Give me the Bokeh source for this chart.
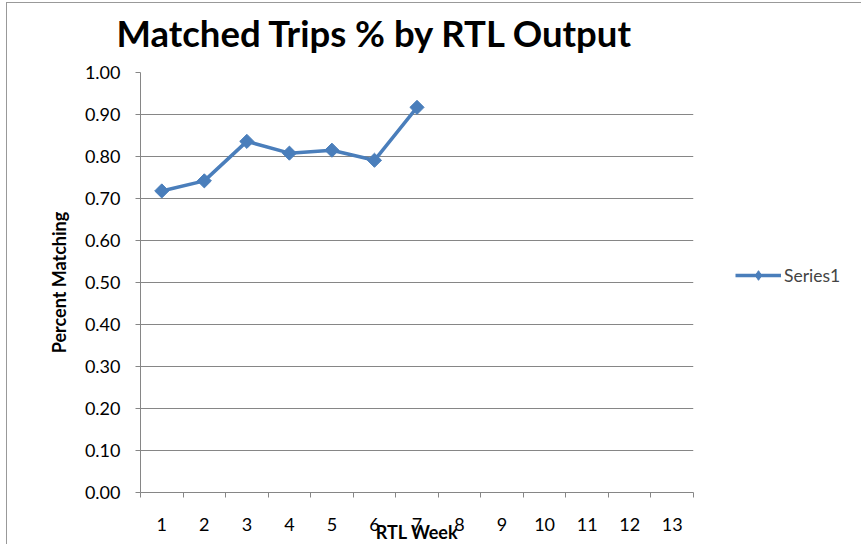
from math import pi
from bokeh.plotting import figure
from bokeh.models import Range1d, FixedTicker, Legend, LegendItem
from bokeh.embed import file_html
from bokeh.resources import INLINE

weeks = [1, 2, 3, 4, 5, 6, 7]
pct = [0.718, 0.742, 0.836, 0.808, 0.815, 0.791, 0.917]
x_ticks = list(range(1, 14))
x_bounds = [i + 0.5 for i in range(0, 14)]
y_ticks = [i / 10 for i in range(0, 11)]
title_text = "Matched Trips % by RTL Output"
x_title = "RTL Week"
y_title = "Percent Matching"
series_name = "Series1"

FONT = "Lato"
BLUE = "#4A7EBB"
GRID = "#868686"

TOP = 90      # top border on the canvas (title room)
SHIFT = 18    # canvas is pulled up so the plot area starts 72px from the top

p = figure(frame_width=553, frame_height=420, output_backend="svg",
           toolbar_location=None,
           x_range=Range1d(x_bounds[0], x_bounds[-1]), y_range=Range1d(0, 1),
           min_border_left=140, min_border_right=168, min_border_top=TOP,
           min_border_bottom=52)
p.outline_line_color = None
p.border_fill_color = None
p.styles = {
    "margin-top": f"-{SHIFT}px",
    "box-shadow": (f"inset 6px 0 0 0 white, inset 0 {SHIFT + 2}px 0 0 white, "
                   f"inset 7px 0 0 0 #999, inset 0 {SHIFT + 3}px 0 0 #999"),
}

# title
p.title.text = title_text
p.title.text_font = FONT
p.title.text_font_style = "bold"
p.title.text_font_size = "36.5px"
p.title.text_color = "black"
p.title.align = "left"
p.title.offset = -24
p.title.standoff = 36

# axes
p.xaxis.ticker = FixedTicker(ticks=x_ticks, minor_ticks=x_bounds)
p.xaxis.major_tick_out = 0
p.xaxis.major_tick_in = 0
p.xaxis.minor_tick_out = 5
p.xaxis.minor_tick_in = 0
p.xaxis.minor_tick_line_color = GRID
p.xaxis.axis_line_color = GRID
p.xaxis.major_label_standoff = 20
p.xaxis.major_label_text_font = FONT
p.xaxis.major_label_text_font_size = "18px"
p.xaxis.major_label_text_color = "black"
p.xaxis.axis_label = x_title
p.xaxis.axis_label_text_font = FONT
p.xaxis.axis_label_text_font_style = "bold"
p.xaxis.axis_label_text_font_size = "18px"
p.xaxis.axis_label_text_color = "black"
p.xaxis.axis_label_standoff = -13

p.yaxis.ticker = FixedTicker(ticks=y_ticks, minor_ticks=[])
p.yaxis.major_label_overrides = {t: f"{t:.2f}" for t in y_ticks}
p.yaxis.major_tick_out = 5
p.yaxis.major_tick_in = 0
p.yaxis.major_tick_line_color = GRID
p.yaxis.axis_line_color = GRID
p.yaxis.major_label_standoff = 15
p.yaxis.major_label_text_font = FONT
p.yaxis.major_label_text_font_size = "18px"
p.yaxis.major_label_text_color = "black"
p.yaxis.axis_label = y_title
p.yaxis.axis_label_text_font = FONT
p.yaxis.axis_label_text_font_style = "bold"
p.yaxis.axis_label_text_font_size = "18px"
p.yaxis.axis_label_text_color = "black"
p.yaxis.axis_label_standoff = 12

p.xgrid.visible = False
p.ygrid.ticker = FixedTicker(ticks=y_ticks)
p.ygrid.grid_line_color = GRID
p.ygrid.grid_line_width = 1

r_line = p.line(weeks, pct, line_color=BLUE, line_width=3.5)
r_pts = p.scatter(weeks, pct, marker="square", angle=pi / 4, size=10,
                  fill_color=BLUE, line_color=BLUE)
# legend-only marker renderer (hidden in plot; legend draws the diamond shape)
r_leg = p.scatter(weeks, pct, marker="diamond", size=15,
                  fill_color=BLUE, line_color=BLUE, visible=False)

legend = Legend(items=[LegendItem(label=series_name, renderers=[r_line, r_leg])],
                location=(42, 205), orientation="vertical",
                glyph_width=46, glyph_height=24, label_height=24,
                label_standoff=3, padding=0, margin=0, border_line_color=None,
                background_fill_alpha=0, label_text_font=FONT,
                label_text_font_size="17.5px", inactive_fill_alpha=0)
p.add_layout(legend, "right")

open("out.html", "w").write(file_html(p, INLINE))
